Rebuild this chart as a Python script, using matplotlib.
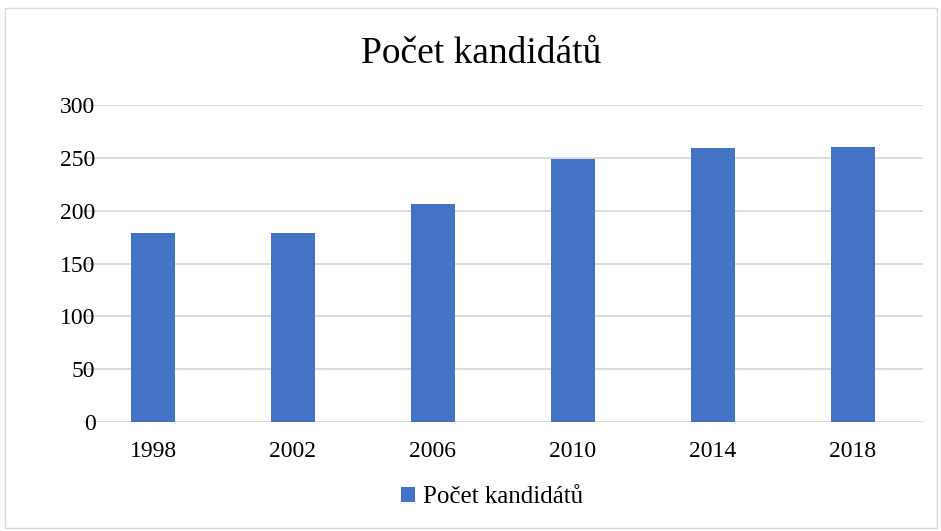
import matplotlib.pyplot as plt
from matplotlib.patches import Rectangle

roky = ['1998', '2002', '2006', '2010', '2014', '2018']
pocet_kandidatu = [179, 179, 206, 249, 259, 260]
nazev = 'Počet kandidátů'

plt.rcParams['font.family'] = ['Liberation Serif', 'DejaVu Serif']

fig = plt.figure(figsize=(9.41, 5.31), dpi=100)
ax = fig.add_axes([83 / 941, 1 - 422 / 531, 840 / 941, 317 / 531])

x = range(len(roky))
ax.bar(x, pocet_kandidatu, width=0.315, color='#4472C4', label=nazev, zorder=3)

ax.set_xlim(-0.5, len(roky) - 0.5)
ax.set_ylim(0, 300)
ax.set_yticks(range(0, 301, 50))
ax.set_xticks(list(x))
ax.set_xticklabels(roky)
ax.tick_params(axis='both', length=0, labelsize=17, colors='black')
ax.tick_params(axis='x', pad=14)
ax.tick_params(axis='y', pad=-9)
for lbl in ax.get_yticklabels():
    lbl.set_horizontalalignment('right')
ax.grid(axis='y', color='#d9d9d9', linewidth=1.3, zorder=0)
for s in ax.spines.values():
    s.set_visible(False)

fig.text(481 / 941, 1 - 54 / 531, nazev, ha='center', va='center', fontsize=27)

leg = fig.legend(loc='center', bbox_to_anchor=(0.523, 1 - 497 / 531), frameon=False,
                 fontsize=18, handlelength=0.55, handleheight=0.55, handletextpad=0.3)

# ramecek kolem grafu
fig.patches.append(Rectangle((5 / 941, 3 / 531), 932 / 941, 520 / 531, transform=fig.transFigure,
                             fill=False, edgecolor='#d9d9d9', linewidth=1))

fig.savefig('out.png', dpi=100)
